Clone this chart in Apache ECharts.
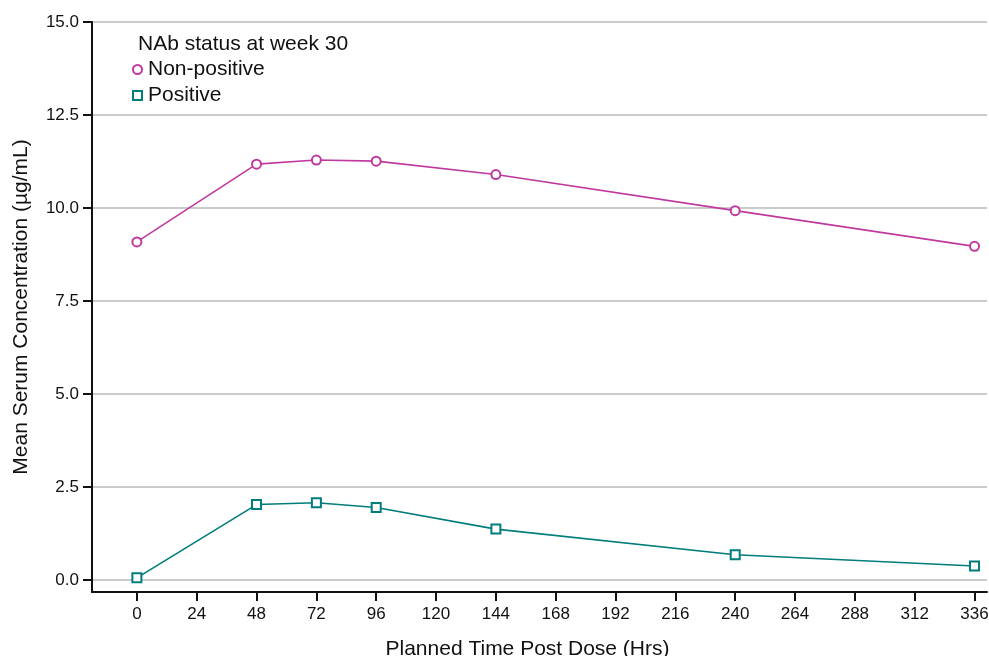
<!DOCTYPE html>
<html>
<head>
<meta charset="utf-8">
<style>
  html, body { margin: 0; padding: 0; background: #ffffff; }
  #chart { width: 989px; height: 656px; }
</style>
<script src="https://cdn.jsdelivr.net/npm/echarts@6/dist/echarts.min.js"></script>
</head>
<body>
<div id="chart"></div>
<script>
// Planned sampling times (hours post dose)
const hours = [0, 48, 72, 96, 144, 240, 336];
// Mean serum concentration (µg/mL) by NAb status at week 30
const nonPositive = [9.09, 11.18, 11.29, 11.26, 10.90, 9.93, 8.97];
const positive = [0.06, 2.03, 2.08, 1.95, 1.37, 0.68, 0.38];
// Axis tick values
const xTicks = [0, 24, 48, 72, 96, 120, 144, 168, 192, 216, 240, 264, 288, 312, 336];
const yTicks = [0, 2.5, 5, 7.5, 10, 12.5, 15];

const FONT = '"Liberation Sans", Arial, Helvetica, sans-serif';
const MAGENTA = '#c0399f';
const TEAL = '#007d7c';

const pairs = (xs, ys) => xs.map((x, i) => [x, ys[i]]);

const chart = echarts.init(document.getElementById('chart'), null, { renderer: 'canvas' });
chart.setOption({
  animation: false,
  backgroundColor: '#ffffff',
  textStyle: { fontFamily: FONT, color: '#111' },
  grid: { left: 92, right: 2, top: 22, bottom: 64, containLabel: false, outerBoundsMode: 'none' },
  title: {
    text: 'NAb status at week 30',
    left: 133,
    top: 29,
    textStyle: { fontFamily: FONT, fontSize: 21, fontWeight: 'normal', color: '#111' }
  },
  legend: {
    orient: 'vertical',
    left: 132,
    top: 59,
    itemWidth: 9,
    itemHeight: 9,
    itemGap: 5,
    padding: 0,
    textStyle: { fontFamily: FONT, fontSize: 21, color: '#111', padding: [0, 0, 0, 1] },
    data: [
      { name: 'Non-positive', icon: 'emptyCircle' },
      { name: 'Positive', icon: 'emptyRect' }
    ],
    itemStyle: { borderWidth: 1.1 }
  },
  xAxis: {
    type: 'value',
    min: -18,
    max: 341,
    name: 'Planned Time Post Dose (Hrs)',
    nameLocation: 'middle',
    nameGap: 47,
    nameTextStyle: { fontFamily: FONT, fontSize: 21, color: '#111', padding: [0, 24, 0, 0] },
    axisLine: { show: true, onZero: false, lineStyle: { color: '#111', width: 2 } },
    axisTick: { show: true, length: 9, lineStyle: { color: '#111', width: 2 }, customValues: xTicks },
    axisLabel: { fontFamily: FONT, fontSize: 17, color: '#111', margin: 14, customValues: xTicks },
    splitLine: { show: false }
  },
  yAxis: {
    type: 'value',
    min: -0.32,
    max: 15,
    name: 'Mean Serum Concentration (µg/mL)',
    nameLocation: 'middle',
    nameGap: 60,
    nameTextStyle: { fontFamily: FONT, fontSize: 21, color: '#111' },
    axisLine: { show: true, onZero: false, lineStyle: { color: '#111', width: 2 } },
    axisTick: { show: true, length: 9, lineStyle: { color: '#111', width: 2 }, customValues: yTicks },
    axisLabel: {
      fontFamily: FONT, fontSize: 17, color: '#111', margin: 13,
      customValues: yTicks,
      formatter: v => v.toFixed(1)
    },
    splitLine: { show: true, lineStyle: { color: '#c8cccb', width: 2 } }
  },
  series: [
    {
      name: 'Non-positive',
      type: 'line',
      data: pairs(hours, nonPositive),
      symbol: 'emptyCircle',
      symbolSize: 9,
      showAllSymbol: true,
      lineStyle: { color: MAGENTA, width: 1.6 },
      itemStyle: { color: MAGENTA, borderColor: MAGENTA, borderWidth: 1.1 },
      z: 3
    },
    {
      name: 'Positive',
      type: 'line',
      data: pairs(hours, positive),
      symbol: 'emptyRect',
      symbolSize: 9,
      showAllSymbol: true,
      lineStyle: { color: TEAL, width: 1.6 },
      itemStyle: { color: TEAL, borderColor: TEAL, borderWidth: 1.1 },
      z: 3
    }
  ]
});
</script>
</body>
</html>
